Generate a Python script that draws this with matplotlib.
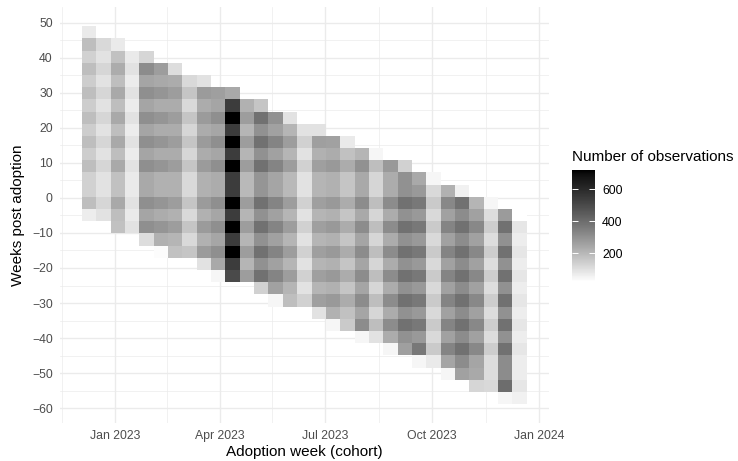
import numpy as np
import pandas as pd
import matplotlib
matplotlib.use("Agg")
import matplotlib.pyplot as plt
import matplotlib.dates as mdates
from matplotlib.colors import ListedColormap

plt.rcParams['font.family'] = ['Liberation Sans', 'DejaVu Sans']

# ---- bins -------------------------------------------------------------
first_cohort_edge = pd.Timestamp("2022-12-03 14:00")   # left edge of first cohort bin
cohort_width_days = 12.345                              # width of a cohort bin
top_week_edge = 48.96                                   # upper edge of first week bin
week_bin = 3.477                                        # height of a week bin

# first week-bin row (counted from the top) occupied by each cohort
row_start = [0, 1, 1, 2, 2, 3, 3, 4, 4, 5, 5, 6, 6, 7, 7, 8,
             8, 9, 9, 10, 10, 11, 11, 12, 12, 13, 13, 14, 14, 15, 15]

# number of observations per cohort, going down from row_start
counts = [
    [73, 182, 133, 182, 144, 182, 144, 182, 144, 182, 144, 182, 133, 133, 182, 64],
    [114, 93, 123, 93, 123, 93, 123, 93, 123, 93, 123, 93, 93, 123, 93],
    [73, 174, 229, 182, 236, 182, 236, 182, 236, 182, 236, 174, 174, 236, 182, 174],
    [73, 93, 68, 93, 68, 93, 68, 93, 68, 93, 73, 73, 93, 73, 93],
    [123, 311, 247, 306, 247, 306, 247, 306, 247, 306, 236, 236, 306, 247, 306, 103],
    [268, 236, 290, 229, 290, 229, 290, 229, 290, 216, 216, 290, 229, 290, 216, 29],
    [103, 229, 268, 229, 268, 229, 268, 229, 268, 216, 216, 268, 216, 268, 205, 174],
    [114, 164, 114, 164, 123, 164, 123, 164, 114, 114, 164, 114, 164, 114, 164],
    [93, 274, 229, 274, 229, 274, 229, 274, 216, 216, 274, 216, 274, 216, 274, 93],
    [262, 247, 306, 243, 306, 243, 306, 229, 229, 306, 243, 306, 243, 306, 236, 44],
    [236, 544, 722, 544, 722, 544, 722, 544, 544, 722, 544, 722, 544, 722, 544, 500],
    [216, 268, 205, 268, 205, 268, 195, 195, 268, 205, 268, 205, 268, 205, 268],
    [164, 389, 300, 389, 300, 389, 290, 290, 389, 300, 389, 300, 389, 300, 389, 133],
    [300, 258, 333, 258, 333, 247, 247, 333, 258, 333, 258, 333, 258, 333, 258, 44],
    [93, 205, 268, 205, 268, 195, 195, 268, 205, 268, 205, 268, 205, 268, 205, 182],
    [93, 133, 93, 133, 93, 93, 133, 93, 133, 93, 133, 93, 133, 93, 133],
    [93, 262, 216, 262, 205, 205, 262, 205, 262, 205, 262, 205, 262, 205, 262, 93],
    [258, 229, 279, 216, 216, 279, 216, 279, 216, 279, 216, 279, 216, 279, 216, 44],
    [73, 174, 229, 164, 164, 229, 164, 229, 164, 229, 164, 229, 164, 229, 174, 154],
    [205, 300, 236, 236, 311, 236, 311, 247, 311, 247, 311, 247, 311, 247, 311, 44],
    [44, 182, 123, 123, 182, 123, 182, 123, 182, 123, 182, 123, 182, 123, 182, 93],
    [279, 229, 229, 311, 229, 311, 229, 311, 229, 311, 229, 311, 229, 311, 229, 44],
    [133, 300, 300, 389, 300, 389, 300, 389, 300, 389, 300, 389, 300, 389, 300, 262],
    [236, 279, 366, 279, 366, 279, 366, 279, 366, 279, 366, 279, 366, 279, 366, 44],
    [44, 114, 154, 114, 154, 114, 154, 114, 154, 114, 154, 114, 154, 114, 154, 73],
    [216, 322, 258, 333, 258, 333, 258, 333, 258, 333, 258, 333, 258, 333, 247, 44],
    [54, 389, 311, 389, 311, 389, 311, 389, 311, 389, 311, 389, 311, 389, 311, 258],
    [205, 258, 322, 258, 322, 258, 322, 258, 322, 258, 322, 258, 322, 247, 236, 123],
    [44, 103, 144, 103, 144, 103, 144, 103, 144, 103, 144, 103, 144, 103, 103, 114],
    [274, 389, 300, 389, 300, 389, 300, 389, 300, 389, 300, 389, 311, 311, 400, 44],
    [20, 83, 64, 83, 64, 83, 64, 83, 64, 83, 64, 83, 64, 64, 83, 54],
]

x_major = ["2023-01-01", "2023-04-01", "2023-07-01", "2023-10-01", "2024-01-01"]
x_major_labels = ["Jan 2023", "Apr 2023", "Jul 2023", "Oct 2023", "Jan 2024"]
y_major = [50, 40, 30, 20, 10, 0, -10, -20, -30, -40, -50, -60]
legend_ticks = [200, 400, 600]

# ---- grid ---------------------------------------------------------------
n_cohorts = len(counts)
n_rows = max(s + len(c) for s, c in zip(row_start, counts))

x_edges_ts = first_cohort_edge + pd.to_timedelta(np.arange(n_cohorts + 1) * cohort_width_days, unit="D")
x_edges = mdates.date2num(x_edges_ts.to_pydatetime())
y_edges = top_week_edge - week_bin * np.arange(n_rows + 1)

Z = np.full((n_rows, n_cohorts), np.nan)
for j, (s, col) in enumerate(zip(row_start, counts)):
    Z[s:s + len(col), j] = col
Z = np.ma.masked_invalid(Z)

# white -> black ramp, linear in CIE L*
t = np.linspace(0, 1, 256)
L = 100.0 * (1 - t)
Y = np.where(L > 8, ((L + 16) / 116) ** 3, L / 903.3)
s = np.where(Y <= 0.0031308, 12.92 * Y, 1.055 * np.power(np.maximum(Y, 1e-12), 1 / 2.4) - 0.055)
s = np.clip(s, 0, 1)
cmap = ListedColormap(np.column_stack([s, s, s]))

# ---- figure -------------------------------------------------------------
W, H = 738, 461
fig = plt.figure(figsize=(W / 100, H / 100), dpi=100)
ax = fig.add_axes([59.8 / W, 1 - 423 / H, (548.9 - 59.8) / W, (423 - 7.3) / H])

vmin, vmax = Z.min(), Z.max()
mesh = ax.pcolormesh(x_edges, y_edges, Z, cmap=cmap, vmin=vmin, vmax=vmax,
                     shading="flat", zorder=2)

# axis ranges with 5% padding
xr = x_edges[-1] - x_edges[0]
ax.set_xlim(x_edges[0] - 0.05 * xr, x_edges[-1] + 0.05 * xr)
yr = y_edges[0] - y_edges[-1]
ax.set_ylim(y_edges[-1] - 0.05 * yr, y_edges[0] + 0.05 * yr)

major_x = mdates.date2num(pd.to_datetime(x_major).to_pydatetime())
prev = mdates.date2num(pd.Timestamp("2022-10-01").to_pydatetime())
all_major = np.concatenate([[prev], major_x])
minor_x = (all_major[:-1] + all_major[1:]) / 2
ax.set_xticks(major_x)
ax.set_xticklabels(x_major_labels)
ax.set_xticks(minor_x, minor=True)
ax.set_yticks(y_major)
ax.set_yticks([v + 5 for v in y_major if v + 5 < 55], minor=True)

ax.grid(which="major", color="#EBEBEB", linewidth=1.0, zorder=0)
ax.grid(which="minor", color="#EBEBEB", linewidth=0.5, zorder=0)
ax.set_axisbelow(True)
for sp in ax.spines.values():
    sp.set_visible(False)
ax.tick_params(which="both", length=0, labelsize=8.8, labelcolor="#4D4D4D", pad=5)

fig.text(304 / W, 1 - 452 / H, "Adoption week (cohort)", ha="center", va="center",
         fontsize=11, color="black")
fig.text(18.5 / W, 1 - 215 / H, "Weeks post adoption", ha="center", va="center",
         rotation=90, fontsize=11, color="black")

# ---- colour bar -------------------------------------------------------------
cax = fig.add_axes([571.7 / W, 1 - 281.7 / H, 23.3 / W, 111.7 / H])
cb = fig.colorbar(mesh, cax=cax, ticks=legend_ticks)
cb.outline.set_visible(False)
cax.tick_params(which="major", direction="in", length=4.6, width=0.7, color="white",
                left=True, right=True, labelleft=False, labelright=True,
                labelsize=8.8, labelcolor="black", pad=5)
cax.minorticks_off()
fig.text(571.7 / W, 1 - 156.7 / H, "Number of observations", ha="left", va="center",
         fontsize=11, color="black")

fig.savefig("out.png", dpi=100)
